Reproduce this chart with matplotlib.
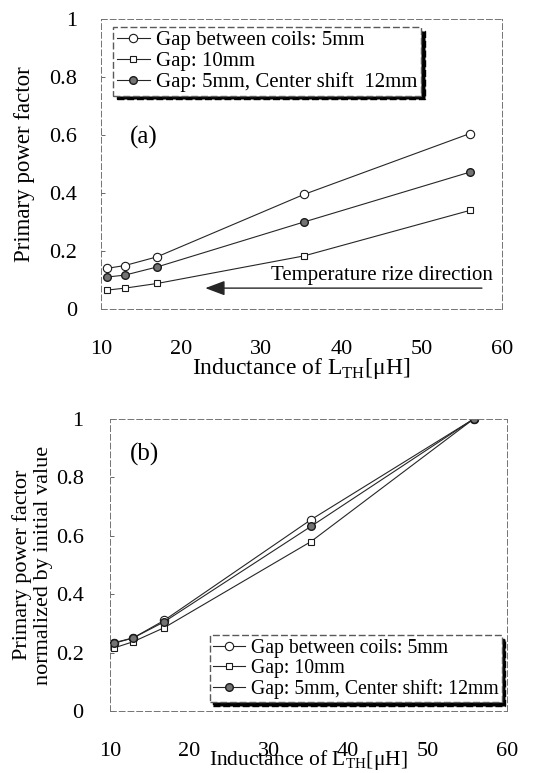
import matplotlib
matplotlib.use("Agg")
import matplotlib.pyplot as plt

plt.rcParams['font.family'] = ['Liberation Serif', 'DejaVu Serif']
plt.rcParams['mathtext.fontset'] = 'custom'
plt.rcParams['mathtext.rm'] = 'Liberation Serif'

# Inductance of L_TH [uH]
inductance_a = [10.7, 13.0, 17.0, 35.3, 56.0]
inductance_b = [10.5, 12.9, 16.8, 35.3, 55.8]

series_labels_a = ['Gap between coils: 5mm', 'Gap: 10mm', 'Gap: 5mm, Center shift  12mm']
series_labels_b = ['Gap between coils: 5mm', 'Gap: 10mm', 'Gap: 5mm, Center shift: 12mm']

# (a) primary power factor
pf_gap5 = [0.14, 0.15, 0.18, 0.395, 0.605]
pf_gap10 = [0.065, 0.072, 0.088, 0.183, 0.34]
pf_shift12 = [0.11, 0.117, 0.145, 0.30, 0.472]

# (b) normalized by initial value
norm_gap5 = [0.234, 0.25, 0.31, 0.655, 1.0]
norm_gap10 = [0.216, 0.237, 0.285, 0.58, 1.0]
norm_shift12 = [0.232, 0.25, 0.305, 0.632, 1.0]

x_ticks = [10, 20, 30, 40, 50, 60]
y_ticks = [0, 0.2, 0.4, 0.6, 0.8, 1]
y_ticklabels = ['0', '0.2', '0.4', '0.6', '0.8', '1']

W, H = 559, 773
fig = plt.figure(figsize=(W / 100, H / 100), dpi=100)


def px_axes(left, right, top, bottom):
    return fig.add_axes([left / W, 1 - bottom / H, (right - left) / W, (bottom - top) / H])


def style_axes(ax, ypad):
    ax.set_xlim(10, 60)
    ax.set_ylim(0, 1)
    ax.set_xticks(x_ticks)
    ax.set_yticks(y_ticks)
    ax.set_yticklabels(y_ticklabels)
    ax.tick_params(axis='x', length=0, pad=22, labelsize=16)
    ax.tick_params(axis='y', direction='in', length=3, width=0.6, pad=ypad, labelsize=16, color='0.3')
    for s in ax.spines.values():
        s.set_linestyle((0, (6, 3)))
        s.set_linewidth(0.7)
        s.set_color('0.45')


line_kw = dict(color='0.15', linewidth=0.8)
styles = [
    dict(marker='o', markersize=6, markerfacecolor='white', markeredgecolor='0.1', markeredgewidth=0.8),
    dict(marker='s', markersize=4.5, markerfacecolor='white', markeredgecolor='0.1', markeredgewidth=0.8),
    dict(marker='o', markersize=5.5, markerfacecolor='0.45', markeredgecolor='0.1', markeredgewidth=1.0),
]

legend_kw = dict(fancybox=False, framealpha=1, edgecolor='0.35',
                 handlelength=1.6, handletextpad=0.3, borderpad=0.18, labelspacing=0.05,
                 borderaxespad=0,
                 shadow={'color': 'black', 'alpha': 1, 'ox': 2.5, 'oy': -2.5})

# ---- (a)
ax1 = px_axes(101, 502, 19, 309)
style_axes(ax1, 17)
for ys, lab, st in zip([pf_gap5, pf_gap10, pf_shift12], series_labels_a, styles):
    ax1.plot(inductance_a, ys, label=lab, **line_kw, **st)
leg1 = ax1.legend(loc='upper left', bbox_to_anchor=(0.03, 0.972), fontsize=15, **legend_kw)
leg1.get_frame().set_linestyle((0, (5, 2)))
ax1.text(0.072, 0.593, '(a)', fontsize=18, ha='left', va='center', transform=ax1.transAxes)
ax1.annotate('', xy=(23.0, 0.072), xytext=(57.5, 0.072),
             arrowprops=dict(arrowstyle='-|>,head_length=1.2,head_width=0.45',
                             color='0.15', linewidth=1.0, shrinkA=0, shrinkB=0,
                             facecolor='0.3'))
ax1.text(58.8, 0.114, 'Temperature rize direction', fontsize=15, ha='right', va='center')
ax1.set_ylabel('Primary power factor', fontsize=16.5, va='center')
ax1.yaxis.set_label_coords(-0.19, 0.5)
ax1.set_xlabel('Inductance of L$_{\\mathrm{TH}}$[μH]', fontsize=17, va='center')
ax1.xaxis.set_label_coords(0.5, -0.205)

# ---- (b)
ax2 = px_axes(110, 507, 419, 711)
style_axes(ax2, 19)
for ys, lab, st in zip([norm_gap5, norm_gap10, norm_shift12], series_labels_b, styles):
    ax2.plot(inductance_b, ys, label=lab, **line_kw, **st)
leg2 = ax2.legend(loc='lower right', bbox_to_anchor=(0.987, 0.03), fontsize=14.2, **legend_kw)
leg2.get_frame().set_linestyle((0, (5, 2)))
ax2.text(0.05, 0.877, '(b)', fontsize=18, ha='left', va='center', transform=ax2.transAxes)
ax2.set_ylabel('Primary power factor\nnormalized by initial value', fontsize=16,
               linespacing=1.2, va='center')
ax2.yaxis.set_label_coords(-0.195, 0.5)
ax2.set_xlabel('Inductance of L$_{\\mathrm{TH}}$[μH]', fontsize=15.5, va='center')
ax2.xaxis.set_label_coords(0.5, -0.168)

fig.savefig('out.png', dpi=100)
